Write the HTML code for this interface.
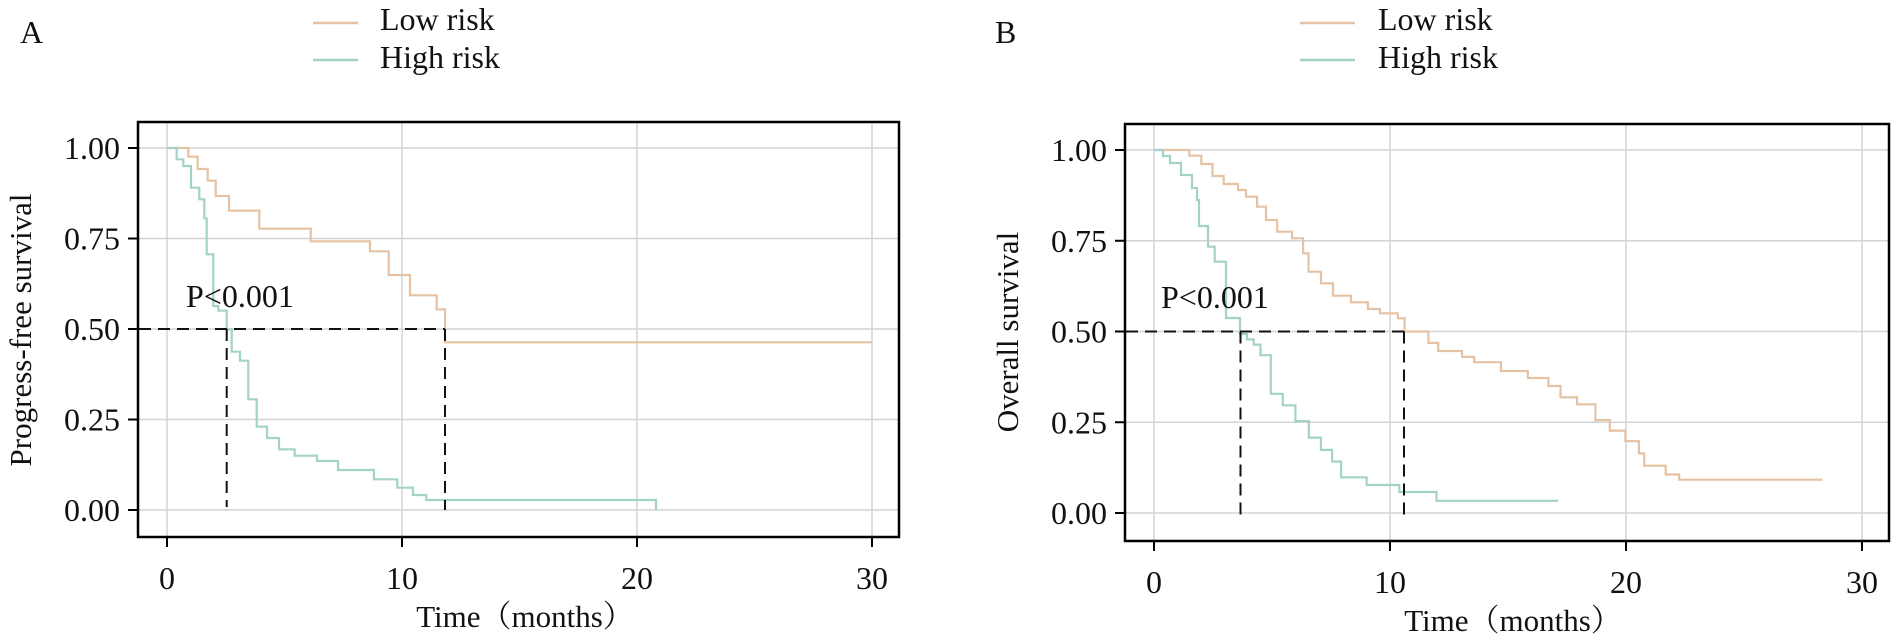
<!DOCTYPE html>
<html><head><meta charset="utf-8"><style>
html,body{margin:0;padding:0;background:#fff;}
svg{display:block;}
text{font-family:"Liberation Serif","Noto Serif CJK SC",serif;fill:#111;}
</style></head><body>
<svg width="1902" height="643" viewBox="0 0 1902 643" xmlns="http://www.w3.org/2000/svg">
<!-- Panel A -->
<text x="20" y="43" font-size="32">A</text>
<line x1="313" y1="23" x2="358" y2="23" stroke="#e6c2a4" stroke-width="2.5"/>
<line x1="313" y1="60" x2="358" y2="60" stroke="#a3d2c8" stroke-width="2.5"/>
<text x="380" y="30" font-size="32">Low risk</text>
<text x="380" y="68" font-size="32">High risk</text>
<g stroke="#d3d3d3" stroke-width="1.5">
<line x1="167" y1="123" x2="167" y2="536"/><line x1="402" y1="123" x2="402" y2="536"/><line x1="637" y1="123" x2="637" y2="536"/><line x1="872" y1="123" x2="872" y2="536"/>
<line x1="139" y1="148" x2="898" y2="148"/><line x1="139" y1="238.5" x2="898" y2="238.5"/><line x1="139" y1="329" x2="898" y2="329"/><line x1="139" y1="419.5" x2="898" y2="419.5"/><line x1="139" y1="510" x2="898" y2="510"/>
</g>
<rect x="138" y="122" width="761" height="415" fill="none" stroke="#000" stroke-width="2.5"/>
<g stroke="#000" stroke-width="2">
<line x1="128" y1="148" x2="138" y2="148"/><line x1="128" y1="238.5" x2="138" y2="238.5"/><line x1="128" y1="329" x2="138" y2="329"/><line x1="128" y1="419.5" x2="138" y2="419.5"/><line x1="128" y1="510" x2="138" y2="510"/>
<line x1="167" y1="537" x2="167" y2="547"/><line x1="402" y1="537" x2="402" y2="547"/><line x1="637" y1="537" x2="637" y2="547"/><line x1="872" y1="537" x2="872" y2="547"/>
</g>
<g font-size="32" text-anchor="end">
<text x="120" y="159">1.00</text><text x="120" y="249.5">0.75</text><text x="120" y="340">0.50</text><text x="120" y="430.5">0.25</text><text x="120" y="521">0.00</text>
</g>
<g font-size="32" text-anchor="middle">
<text x="167" y="589">0</text><text x="402" y="589">10</text><text x="637" y="589">20</text><text x="872" y="589">30</text>
</g>
<text x="525" y="627" font-size="31" text-anchor="middle">Time（months）</text>
<text transform="translate(31,330) rotate(-90)" font-size="31" text-anchor="middle">Progress-free survival</text>
<path d="M167,148 H188.3 V156.7 H197.7 V169 H207.7 V180.7 H215.7 V196 H229 V210.7 H259.3 V228.7 H310.7 V241.3 H370 V251.3 H388.7 V275 H410 V295.3 H436.7 V309.3 H445 V342.3 H872" fill="none" stroke="#e6c2a4" stroke-width="2.2"/>
<path d="M167,148 H176.7 V159.3 H183.3 V166 H191 V187.7 H199.3 V199.3 H204.3 V218.3 H206.7 V254.3 H213.3 V306 H218.3 V310.7 H226.7 V329.3 H231.7 V351.7 H240 V360.7 H248.3 V399.3 H256.7 V426.7 H267 V438 H279 V449.3 H294.6 V455.7 H317 V461 H338 V470 H374 V479.3 H397.3 V487.7 H413 V495 H426.3 V500 H656 V510" fill="none" stroke="#a3d2c8" stroke-width="2.2"/>
<g stroke="#111" stroke-width="2" stroke-dasharray="12,7" fill="none">
<path d="M139,329 H445"/><path d="M226.7,329 V507"/><path d="M445,329 V510"/>
</g>
<text x="186" y="307" font-size="32">P&lt;0.001</text>

<!-- Panel B -->
<text x="995" y="43" font-size="32">B</text>
<line x1="1300" y1="23" x2="1355" y2="23" stroke="#e6c2a4" stroke-width="2.5"/>
<line x1="1300" y1="60" x2="1355" y2="60" stroke="#a3d2c8" stroke-width="2.5"/>
<text x="1378" y="30" font-size="32">Low risk</text>
<text x="1378" y="68" font-size="32">High risk</text>
<g stroke="#d3d3d3" stroke-width="1.5">
<line x1="1154" y1="125" x2="1154" y2="540"/><line x1="1390" y1="125" x2="1390" y2="540"/><line x1="1626" y1="125" x2="1626" y2="540"/><line x1="1862" y1="125" x2="1862" y2="540"/>
<line x1="1126" y1="150" x2="1888" y2="150"/><line x1="1126" y1="240.75" x2="1888" y2="240.75"/><line x1="1126" y1="331.5" x2="1888" y2="331.5"/><line x1="1126" y1="422.25" x2="1888" y2="422.25"/><line x1="1126" y1="513" x2="1888" y2="513"/>
</g>
<rect x="1125" y="124" width="764" height="417" fill="none" stroke="#000" stroke-width="2.5"/>
<g stroke="#000" stroke-width="2">
<line x1="1115" y1="150" x2="1125" y2="150"/><line x1="1115" y1="240.75" x2="1125" y2="240.75"/><line x1="1115" y1="331.5" x2="1125" y2="331.5"/><line x1="1115" y1="422.25" x2="1125" y2="422.25"/><line x1="1115" y1="513" x2="1125" y2="513"/>
<line x1="1154" y1="541" x2="1154" y2="551"/><line x1="1390" y1="541" x2="1390" y2="551"/><line x1="1626" y1="541" x2="1626" y2="551"/><line x1="1862" y1="541" x2="1862" y2="551"/>
</g>
<g font-size="32" text-anchor="end">
<text x="1107" y="161">1.00</text><text x="1107" y="251.75">0.75</text><text x="1107" y="342.5">0.50</text><text x="1107" y="433.25">0.25</text><text x="1107" y="524">0.00</text>
</g>
<g font-size="32" text-anchor="middle">
<text x="1154" y="593">0</text><text x="1390" y="593">10</text><text x="1626" y="593">20</text><text x="1862" y="593">30</text>
</g>
<text x="1513" y="631" font-size="31" text-anchor="middle">Time（months）</text>
<text transform="translate(1018,332) rotate(-90)" font-size="31" text-anchor="middle">Overall survival</text>
<path d="M1154,150 H1189.3 V155.7 H1201.3 V164 H1212.5 V176 H1223.7 V184 H1238 V190 H1246 V196.7 H1257.1 V206.7 H1266 V220 H1277.2 V231.7 H1292 V238.3 H1303.1 V253.3 H1308.5 V271.7 H1321 V283.3 H1333 V295.7 H1350.9 V302.3 H1367.9 V309 H1379.9 V313.3 H1397.8 V318.3 H1404.5 V331.5 H1428.4 V342.9 H1438.2 V351 H1462 V356.9 H1474.1 V362.2 H1500.9 V371 H1527.8 V378 H1548.4 V386 H1560.5 V397.3 H1577.1 V404.3 H1595.4 V420 H1609.8 V430.6 H1625.4 V441.1 H1638.9 V453.4 H1644.2 V465.7 H1665.7 V474.5 H1679.2 V479.7 H1822.5" fill="none" stroke="#e6c2a4" stroke-width="2.2"/>
<path d="M1154,150 H1163 V156 H1170 V163 H1181 V175 H1192 V188 H1197 V200 H1199 V226 H1208 V246.7 H1214.7 V261.7 H1226 V280 V318 H1240 V334 H1247 V339.4 H1253.7 V344.6 H1260.5 V355.2 H1270.8 V393.8 H1282.8 V405.3 H1295.4 V421.1 H1308.8 V437.6 H1320.9 V449.9 H1332.1 V461.5 H1341.1 V477.3 H1366.6 V485 H1399.3 V492 H1436.5 V500.8 H1558.3" fill="none" stroke="#a3d2c8" stroke-width="2.2"/>
<g stroke="#111" stroke-width="2" stroke-dasharray="12,7" fill="none">
<path d="M1126,331.5 H1404"/><path d="M1240.5,331.5 V515"/><path d="M1404,331.5 V515"/>
</g>
<text x="1161" y="308" font-size="32">P&lt;0.001</text>
</svg>
</body></html>
